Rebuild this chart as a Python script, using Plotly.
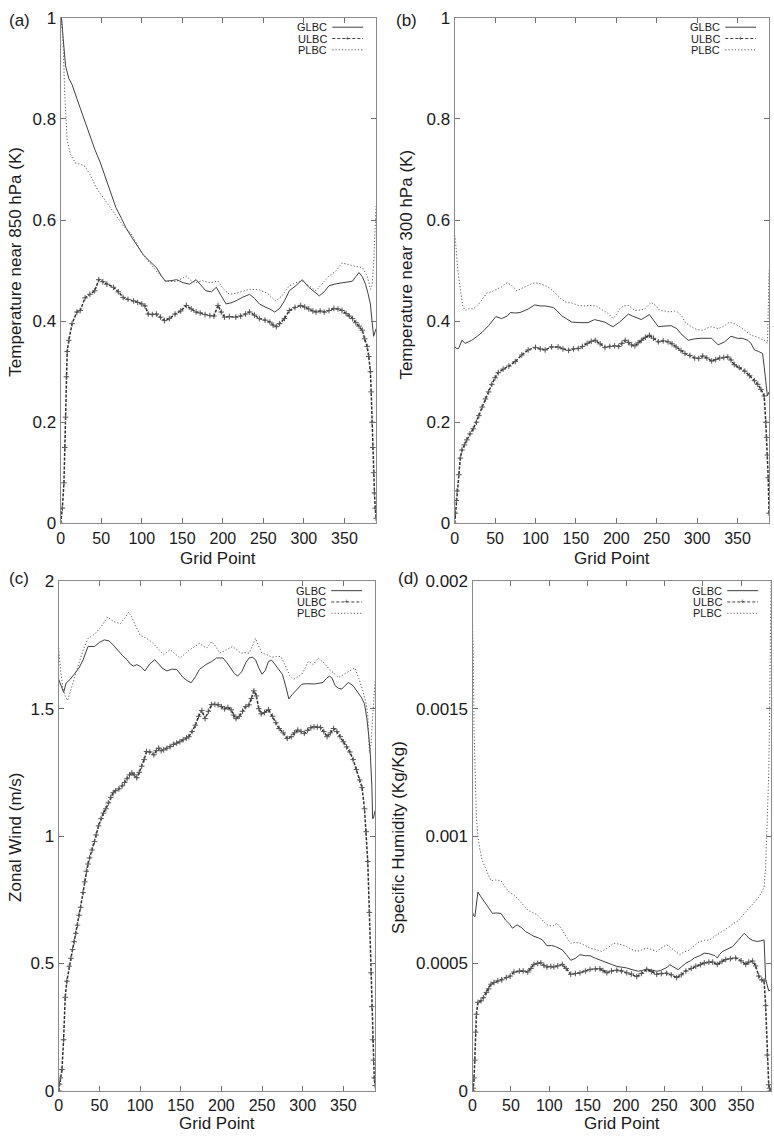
import plotly.graph_objects as go

# ---------------- DATA ----------------
# Panel (a): Temperature near 850 hPa (K)
glbc_a_x = [0,1,3,6,10,14,20,28,36,42,49,55,61,68,75,81,88,95,102,110,118,124,129,136,143,151,159,167,173,179,186,192,198,204,210,216,224,233,239,245,252,258,264,270,276,282,290,298,306,313,319,325,331,340,348,355,360,364,368,372,376,379,382,384,386,388,389]
glbc_a_y = [0.99,1.0,0.96,0.905,0.88,0.868,0.84,0.803,0.77,0.74,0.713,0.685,0.654,0.625,0.603,0.583,0.565,0.548,0.531,0.518,0.506,0.49,0.479,0.48,0.482,0.476,0.473,0.482,0.47,0.46,0.458,0.467,0.45,0.434,0.436,0.44,0.447,0.453,0.445,0.434,0.428,0.424,0.418,0.425,0.44,0.46,0.47,0.482,0.467,0.458,0.45,0.458,0.47,0.474,0.476,0.478,0.479,0.488,0.496,0.488,0.473,0.455,0.434,0.40,0.37,0.38,0.385]
plbc_a_x = [0,1,3,5,8,12,18,25,30,36,45,55,65,77,87,100,110,120,130,142,155,161,167,175,184,194,200,208,216,225,233,245,255,265,273,282,290,298,306,315,323,331,340,347,355,364,372,378,382,384,386,388,389]
plbc_a_y = [0.98,1.0,0.95,0.85,0.758,0.73,0.713,0.71,0.706,0.69,0.661,0.638,0.615,0.589,0.573,0.535,0.515,0.495,0.479,0.478,0.489,0.48,0.476,0.48,0.476,0.479,0.465,0.453,0.455,0.46,0.463,0.462,0.455,0.44,0.45,0.47,0.476,0.479,0.47,0.46,0.475,0.489,0.50,0.515,0.512,0.508,0.506,0.49,0.463,0.47,0.512,0.6,0.628]
ulbc_a_x = [0,2,4,5,6,7,8,10,14,20,24,30,36,42,47,52,57,65,71,77,83,90,95,100,104,108,113,118,123,128,134,141,148,155,161,167,172,178,184,189,194,198,202,208,216,222,228,233,239,245,252,258,262,266,270,276,282,289,296,301,306,311,315,320,325,331,337,342,347,352,356,360,364,368,372,375,378,380,382,383,384,385,386,387,388,389]
ulbc_a_y = [0.0,0.03,0.08,0.15,0.21,0.29,0.34,0.362,0.395,0.418,0.421,0.446,0.453,0.46,0.482,0.478,0.473,0.467,0.458,0.447,0.443,0.44,0.437,0.434,0.43,0.414,0.413,0.414,0.408,0.401,0.405,0.414,0.42,0.431,0.424,0.418,0.416,0.413,0.411,0.41,0.431,0.418,0.408,0.409,0.408,0.41,0.414,0.418,0.412,0.405,0.402,0.398,0.392,0.389,0.395,0.405,0.421,0.427,0.431,0.428,0.424,0.42,0.418,0.42,0.418,0.421,0.425,0.424,0.421,0.415,0.41,0.405,0.397,0.39,0.382,0.365,0.35,0.33,0.30,0.26,0.2,0.15,0.10,0.06,0.03,0.01]

# Panel (b): Temperature near 300 hPa (K)
glbc_b_x = [0,2,5,9,13,21,28,34,42,51,58,65,69,75,81,91,99,106,112,122,127,132,138,145,155,165,173,179,186,191,196,204,209,215,220,225,231,236,241,246,252,258,268,275,280,289,297,305,311,318,326,334,342,350,356,363,367,371,376,381,383,385,387,389]
glbc_b_y = [0.35,0.346,0.346,0.362,0.356,0.362,0.37,0.378,0.391,0.409,0.405,0.41,0.417,0.416,0.417,0.424,0.432,0.43,0.43,0.427,0.42,0.411,0.405,0.398,0.397,0.397,0.403,0.4,0.398,0.393,0.389,0.398,0.405,0.414,0.41,0.407,0.403,0.408,0.413,0.402,0.389,0.39,0.391,0.385,0.375,0.362,0.365,0.366,0.366,0.366,0.353,0.359,0.37,0.366,0.366,0.362,0.355,0.343,0.34,0.336,0.31,0.284,0.252,0.26]
plbc_b_x = [0,1,4,7,10,13,18,23,30,35,40,46,52,58,65,71,77,83,89,95,100,106,112,118,124,131,138,145,153,160,167,175,184,190,196,200,204,209,215,223,229,235,240,243,248,254,260,266,272,276,281,285,290,297,302,307,312,318,326,333,340,346,353,360,367,375,383,386,387,388,389]
plbc_b_y = [0.57,0.56,0.499,0.46,0.43,0.421,0.425,0.424,0.434,0.445,0.456,0.458,0.463,0.468,0.476,0.47,0.46,0.465,0.47,0.474,0.476,0.474,0.47,0.465,0.456,0.445,0.437,0.436,0.431,0.43,0.431,0.43,0.421,0.415,0.405,0.413,0.424,0.43,0.431,0.421,0.422,0.424,0.432,0.437,0.432,0.421,0.42,0.418,0.42,0.418,0.41,0.398,0.392,0.385,0.383,0.382,0.386,0.389,0.385,0.39,0.398,0.395,0.389,0.38,0.372,0.368,0.362,0.358,0.356,0.42,0.5]
ulbc_b_x = [0,1,2,3,5,7,9,12,15,19,23,27,30,34,38,42,46,50,54,60,67,75,83,91,100,106,112,120,128,134,141,147,153,158,164,169,174,180,186,192,198,203,207,211,215,219,223,227,231,236,241,246,252,258,264,269,274,280,285,291,297,302,307,312,318,323,328,333,338,342,346,352,359,365,371,375,379,383,385,386,387,388,389]
ulbc_b_y = [0.0,0.02,0.045,0.064,0.096,0.129,0.145,0.155,0.165,0.177,0.187,0.2,0.213,0.23,0.246,0.26,0.275,0.288,0.298,0.305,0.311,0.32,0.333,0.343,0.348,0.345,0.343,0.349,0.349,0.345,0.342,0.345,0.346,0.35,0.356,0.36,0.362,0.355,0.348,0.35,0.351,0.35,0.356,0.362,0.358,0.353,0.351,0.357,0.362,0.368,0.372,0.366,0.359,0.361,0.359,0.355,0.349,0.342,0.336,0.332,0.327,0.326,0.331,0.327,0.321,0.324,0.327,0.328,0.329,0.323,0.314,0.308,0.301,0.292,0.282,0.275,0.265,0.252,0.2,0.17,0.135,0.09,0.02]

# Panel (c): Zonal Wind (m/s)
glbc_c_x = [0,3,6,9,14,19,25,30,36,44,50,56,62,67,72,78,84,88,92,96,101,106,112,118,123,127,133,139,145,153,158,163,168,173,181,188,194,202,207,212,216,220,225,230,234,238,242,246,250,254,258,262,266,270,275,279,283,287,291,295,299,305,311,315,319,325,329,333,336,340,344,348,352,356,362,368,372,376,379,381,383,385,386,387,388,389]
glbc_c_y = [1.615,1.59,1.564,1.6,1.615,1.635,1.66,1.692,1.744,1.744,1.76,1.77,1.766,1.75,1.731,1.71,1.692,1.675,1.667,1.673,1.665,1.648,1.676,1.692,1.675,1.66,1.648,1.655,1.654,1.622,1.61,1.602,1.625,1.654,1.673,1.685,1.699,1.699,1.68,1.654,1.638,1.628,1.645,1.68,1.699,1.702,1.692,1.66,1.635,1.65,1.686,1.69,1.673,1.66,1.635,1.59,1.538,1.555,1.57,1.585,1.596,1.598,1.596,1.597,1.599,1.603,1.618,1.628,1.62,1.59,1.58,1.577,1.59,1.603,1.59,1.564,1.545,1.519,1.46,1.40,1.33,1.2,1.068,1.07,1.094,1.1]
plbc_c_x = [0,2,5,8,11,14,17,21,25,30,36,44,52,60,68,76,81,86,90,94,100,108,115,121,129,137,143,149,155,161,168,173,178,182,188,193,198,205,214,219,224,229,234,238,242,246,250,256,262,268,273,279,284,289,294,299,303,307,313,319,326,333,338,344,349,354,359,364,369,374,378,380,382,384,386,388,389]
plbc_c_y = [1.738,1.66,1.583,1.55,1.532,1.56,1.596,1.64,1.68,1.73,1.776,1.792,1.821,1.86,1.841,1.834,1.855,1.879,1.86,1.828,1.789,1.776,1.76,1.738,1.712,1.731,1.715,1.699,1.715,1.731,1.745,1.757,1.745,1.738,1.763,1.745,1.718,1.73,1.744,1.73,1.718,1.72,1.718,1.745,1.776,1.745,1.718,1.712,1.702,1.705,1.705,1.667,1.63,1.615,1.625,1.635,1.66,1.686,1.673,1.699,1.68,1.654,1.64,1.622,1.632,1.641,1.65,1.66,1.62,1.57,1.52,1.48,1.326,1.36,1.467,1.58,1.609]
ulbc_c_x = [0,1,2,4,6,8,10,13,15,17,19,21,23,25,27,30,32,34,36,38,41,44,46,49,52,55,58,61,64,67,70,74,78,81,84,87,90,93,96,99,102,105,108,112,117,120,123,126,129,133,137,141,145,149,153,157,160,164,168,172,176,180,184,188,192,196,200,204,208,212,215,218,222,226,230,234,237,240,243,246,249,253,258,263,267,271,276,281,286,290,294,298,302,306,310,314,318,322,326,330,334,338,342,346,350,354,358,362,366,370,373,376,378,380,382,384,385,386,387,388,389]
ulbc_c_y = [0.0,0.026,0.05,0.083,0.2,0.367,0.43,0.489,0.52,0.554,0.585,0.618,0.65,0.689,0.72,0.778,0.82,0.862,0.89,0.914,0.945,0.978,1.004,1.04,1.068,1.09,1.107,1.13,1.152,1.17,1.178,1.185,1.197,1.21,1.225,1.24,1.248,1.24,1.229,1.25,1.274,1.3,1.332,1.33,1.319,1.335,1.345,1.335,1.338,1.345,1.351,1.36,1.365,1.37,1.378,1.385,1.39,1.41,1.435,1.47,1.493,1.461,1.49,1.516,1.517,1.515,1.508,1.499,1.505,1.495,1.475,1.461,1.47,1.49,1.508,1.515,1.54,1.57,1.55,1.5,1.48,1.485,1.496,1.47,1.445,1.422,1.405,1.383,1.39,1.405,1.416,1.41,1.403,1.415,1.425,1.429,1.428,1.426,1.41,1.39,1.405,1.422,1.41,1.39,1.37,1.35,1.33,1.3,1.261,1.22,1.19,1.107,1.017,0.9,0.7,0.463,0.33,0.2,0.12,0.05,0.02]

# Panel (d): Specific Humidity (Kg/Kg)
glbc_d_x = [0,1,3,7,11,16,20,26,31,37,43,48,52,58,64,69,75,80,86,91,97,103,108,112,117,122,128,134,140,147,153,160,166,175,182,188,195,201,208,216,221,227,233,240,245,250,254,257,262,268,273,278,284,289,296,302,308,313,316,319,322,326,332,339,346,351,354,357,360,365,371,375,380,382,384,386,388]
glbc_d_y = [7.0e-4,6.9e-4,6.83e-4,7.8e-4,7.61e-4,7.4e-4,7.22e-4,6.96e-4,6.98e-4,6.96e-4,6.7e-4,6.55e-4,6.38e-4,6.51e-4,6.4e-4,6.25e-4,6.15e-4,6.06e-4,6.0e-4,5.92e-4,5.69e-4,5.7e-4,5.66e-4,5.6e-4,5.53e-4,5.35e-4,5.12e-4,5.2e-4,5.34e-4,5.3e-4,5.3e-4,5.2e-4,5.14e-4,5.02e-4,4.95e-4,4.88e-4,4.85e-4,4.82e-4,4.75e-4,4.69e-4,4.72e-4,4.78e-4,4.74e-4,4.69e-4,4.72e-4,4.78e-4,4.85e-4,4.95e-4,4.85e-4,4.75e-4,4.88e-4,5.01e-4,5.1e-4,5.21e-4,5.3e-4,5.4e-4,5.38e-4,5.34e-4,5.3e-4,5.21e-4,5.35e-4,5.47e-4,5.55e-4,5.66e-4,5.9e-4,6.1e-4,6.18e-4,6.1e-4,5.99e-4,5.9e-4,5.86e-4,5.88e-4,5.92e-4,4.37e-4,4.1e-4,3.92e-4,3.95e-4]
plbc_d_x = [0,1,2,3,5,7,9,12,16,20,24,30,37,42,48,53,59,65,72,78,85,91,97,104,110,115,119,124,128,134,141,147,153,160,168,176,184,192,201,207,214,220,227,233,240,246,253,259,265,270,276,283,289,296,302,309,315,322,328,335,341,347,354,360,366,373,377,380,382,384,386,387,388,389]
plbc_d_y = [18.3e-4,17.0e-4,14.0e-4,12.4e-4,10.7e-4,10.0e-4,9.55e-4,9.1e-4,8.77e-4,8.5e-4,8.25e-4,8.27e-4,8.25e-4,8.0e-4,7.8e-4,7.7e-4,7.54e-4,7.35e-4,7.09e-4,7.0e-4,6.89e-4,6.7e-4,6.51e-4,6.45e-4,6.57e-4,6.4e-4,6.18e-4,5.95e-4,5.79e-4,5.82e-4,5.79e-4,5.7e-4,5.6e-4,5.55e-4,5.47e-4,5.6e-4,5.79e-4,5.75e-4,5.66e-4,5.55e-4,5.47e-4,5.52e-4,5.6e-4,5.55e-4,5.47e-4,5.6e-4,5.73e-4,5.6e-4,5.45e-4,5.34e-4,5.45e-4,5.53e-4,5.7e-4,5.86e-4,5.9e-4,5.92e-4,6.05e-4,6.18e-4,6.3e-4,6.44e-4,6.58e-4,6.7e-4,6.95e-4,7.15e-4,7.35e-4,7.6e-4,7.8e-4,8.0e-4,8.77e-4,10.45e-4,12.4e-4,14.5e-4,17.5e-4,20.0e-4]
ulbc_d_x = [0,1,2,3,4,5,7,11,14,18,21,24,28,33,38,44,49,54,61,66,72,76,80,85,89,93,97,102,106,111,117,122,128,134,140,147,153,160,166,170,175,181,188,194,201,207,214,220,227,233,240,246,253,259,266,272,278,285,291,297,302,308,313,319,325,330,336,343,350,356,360,365,369,373,377,380,382,384,386,387,388]
ulbc_d_y = [0.0,0.1e-4,0.5e-4,1.2e-4,2.3e-4,3.0e-4,3.47e-4,3.53e-4,3.65e-4,3.86e-4,4.0e-4,4.18e-4,4.25e-4,4.31e-4,4.35e-4,4.44e-4,4.5e-4,4.66e-4,4.7e-4,4.7e-4,4.66e-4,4.8e-4,4.96e-4,5.0e-4,5.02e-4,4.92e-4,4.86e-4,4.88e-4,4.86e-4,4.9e-4,4.96e-4,4.8e-4,4.57e-4,4.6e-4,4.63e-4,4.7e-4,4.76e-4,4.78e-4,4.79e-4,4.72e-4,4.63e-4,4.7e-4,4.73e-4,4.7e-4,4.63e-4,4.58e-4,4.48e-4,4.6e-4,4.76e-4,4.68e-4,4.57e-4,4.6e-4,4.61e-4,4.55e-4,4.44e-4,4.55e-4,4.7e-4,4.8e-4,4.89e-4,4.95e-4,5.02e-4,5.05e-4,5.05e-4,4.96e-4,5.08e-4,5.15e-4,5.18e-4,5.21e-4,5.1e-4,4.96e-4,5.05e-4,5.09e-4,4.9e-4,4.5e-4,4.35e-4,4.31e-4,3.34e-4,1.4e-4,0.23e-4,0.1e-4,0.0]

series_names = ["GLBC", "ULBC", "PLBC"]
panel_labels = ["(a)", "(b)", "(c)", "(d)"]
y_titles = ["Temperature near 850 hPa (K)", "Temperature near 300 hPa (K)",
            "Zonal Wind (m/s)", "Specific Humidity (Kg/Kg)"]
x_title = "Grid Point"
x_tickvals = [0, 50, 100, 150, 200, 250, 300, 350]
y_ticks_ab = [0, 0.2, 0.4, 0.6, 0.8, 1]
y_ticktext_ab = ["0", "0.2", "0.4", "0.6", "0.8", "1"]
y_ticks_c = [0, 0.5, 1, 1.5, 2]
y_ticktext_c = ["0", "0.5", "1", "1.5", "2"]
y_ticks_d = [0, 0.0005, 0.001, 0.0015, 0.002]
y_ticktext_d = ["0", "0.0005", "0.001", "0.0015", "0.002"]

# ---------------- LAYOUT ----------------
W, H = 774, 1142
FONT = "Liberation Sans, Arial, Helvetica, sans-serif"
TXT = "#1a1a1a"

def px(x):
    return x / W

def py(y):
    return 1 - y / H

# pixel boxes of the panels: (left, right, top, bottom)
boxes = [(57, 374, 9, 523), (453, 769, 9, 523), (55, 373, 582, 1100), (471, 771, 582, 1100)]
label_pos = [(3, 12), (392, 12), (3, 579), (394, 579)]
ytitle_pos = [(12, 257), (405, 260), (12, 842), (397, 842)]
xtitle_off = [36, 36, 33, 33]

panels = [
    (glbc_a_x, glbc_a_y, ulbc_a_x, ulbc_a_y, plbc_a_x, plbc_a_y, [0, 1], y_ticks_ab, y_ticktext_ab),
    (glbc_b_x, glbc_b_y, ulbc_b_x, ulbc_b_y, plbc_b_x, plbc_b_y, [0, 1], y_ticks_ab, y_ticktext_ab),
    (glbc_c_x, glbc_c_y, ulbc_c_x, ulbc_c_y, plbc_c_x, plbc_c_y, [0, 2], y_ticks_c, y_ticktext_c),
    (glbc_d_x, glbc_d_y, ulbc_d_x, ulbc_d_y, plbc_d_x, plbc_d_y, [0, 0.002], y_ticks_d, y_ticktext_d),
]

GL_STYLE = dict(color="#404040", width=1)
UL_STYLE = dict(color="#2e2e2e", width=1.5, dash="3px,1.5px")
PL_STYLE = dict(color="#5a5a5a", width=1, dash="1.2px,2px")

fig = go.Figure()
annotations = []
shapes = []
axis_common = dict(showline=True, linecolor="#8a8a8a", linewidth=1.3, mirror="ticks",
                   ticks="inside", ticklen=5, tickwidth=1, tickcolor="#707070",
                   showgrid=False, zeroline=False)

for i, (gx, gy, ux, uy, plx, ply, yr, ytv, ytt) in enumerate(panels):
    n = "" if i == 0 else str(i + 1)
    xa, ya = "x" + n, "y" + n
    l, r, t, b = boxes[i]
    fig.add_trace(go.Scatter(x=gx, y=gy, xaxis=xa, yaxis=ya, mode="lines", name="GLBC",
                             line=GL_STYLE, showlegend=False))
    fig.add_trace(go.Scatter(x=plx, y=ply, xaxis=xa, yaxis=ya, mode="lines", name="PLBC",
                             line=PL_STYLE, showlegend=False))
    fig.add_trace(go.Scatter(x=ux, y=uy, xaxis=xa, yaxis=ya, mode="lines+markers", name="ULBC",
                             line=UL_STYLE,
                             marker=dict(symbol="cross-thin", size=4, color="#555555",
                                         line=dict(width=1, color="#555555")),
                             showlegend=False))
    fig.layout["xaxis" + n] = dict(domain=[px(l), px(r)], range=[0, 389], anchor=ya,
                                   tickvals=x_tickvals,
                                   tickfont=dict(family=FONT, size=16, color=TXT), **axis_common)
    fig.layout["yaxis" + n] = dict(domain=[py(b), py(t)], range=yr, anchor=xa,
                                   tickvals=ytv, ticktext=ytt,
                                   tickfont=dict(family=FONT, size=17, color=TXT), **axis_common)

    # panel label
    lx, ly = label_pos[i]
    annotations.append(dict(x=px(lx), y=py(ly), xref="paper", yref="paper",
                            text=panel_labels[i], showarrow=False, xanchor="left", yanchor="middle",
                            font=dict(family=FONT, size=17, color=TXT)))
    # x title
    annotations.append(dict(x=px((l + r) / 2), y=py(b + xtitle_off[i]), xref="paper", yref="paper",
                            text=x_title, showarrow=False, xanchor="center", yanchor="middle",
                            font=dict(family=FONT, size=17, color=TXT)))
    # legend (gnuplot style: text, then sample)
    rows = [t + 9.5, t + 21, t + 32.5]
    styles = [dict(color="#404040", width=1), dict(color="#404040", width=1, dash="3px,2px"),
              dict(color="#5a5a5a", width=1, dash="1.2px,2px")]
    for k, name in enumerate(series_names):
        annotations.append(dict(x=px(r - 47), y=py(rows[k]), xref="paper", yref="paper",
                                text=name, showarrow=False, xanchor="right", yanchor="middle",
                                font=dict(family=FONT, size=11, color=TXT)))
        shapes.append(dict(type="line", xref="paper", yref="paper",
                           x0=px(r - 44), x1=px(r - 13), y0=py(rows[k]), y1=py(rows[k]), line=styles[k]))
    annotations.append(dict(x=px(r - 28.5), y=py(rows[1]), xref="paper", yref="paper",
                            text="+", showarrow=False, xanchor="center", yanchor="middle",
                            font=dict(family=FONT, size=8, color="#404040")))

# y titles
for i, (xx, yy) in enumerate(ytitle_pos):
    annotations.append(dict(x=px(xx), y=py(yy), xref="paper", yref="paper", text=y_titles[i],
                            showarrow=False, textangle=-90, xanchor="center", yanchor="middle",
                            font=dict(family=FONT, size=17, color=TXT)))

fig.update_layout(width=W, height=H, autosize=False, margin=dict(l=0, r=0, t=0, b=0),
                  paper_bgcolor="white", plot_bgcolor="white",
                  font=dict(family=FONT, color=TXT),
                  annotations=annotations, shapes=shapes)

fig.write_html("out.html", config={"displayModeBar": False},
               post_script="document.body.style.margin='0';")
